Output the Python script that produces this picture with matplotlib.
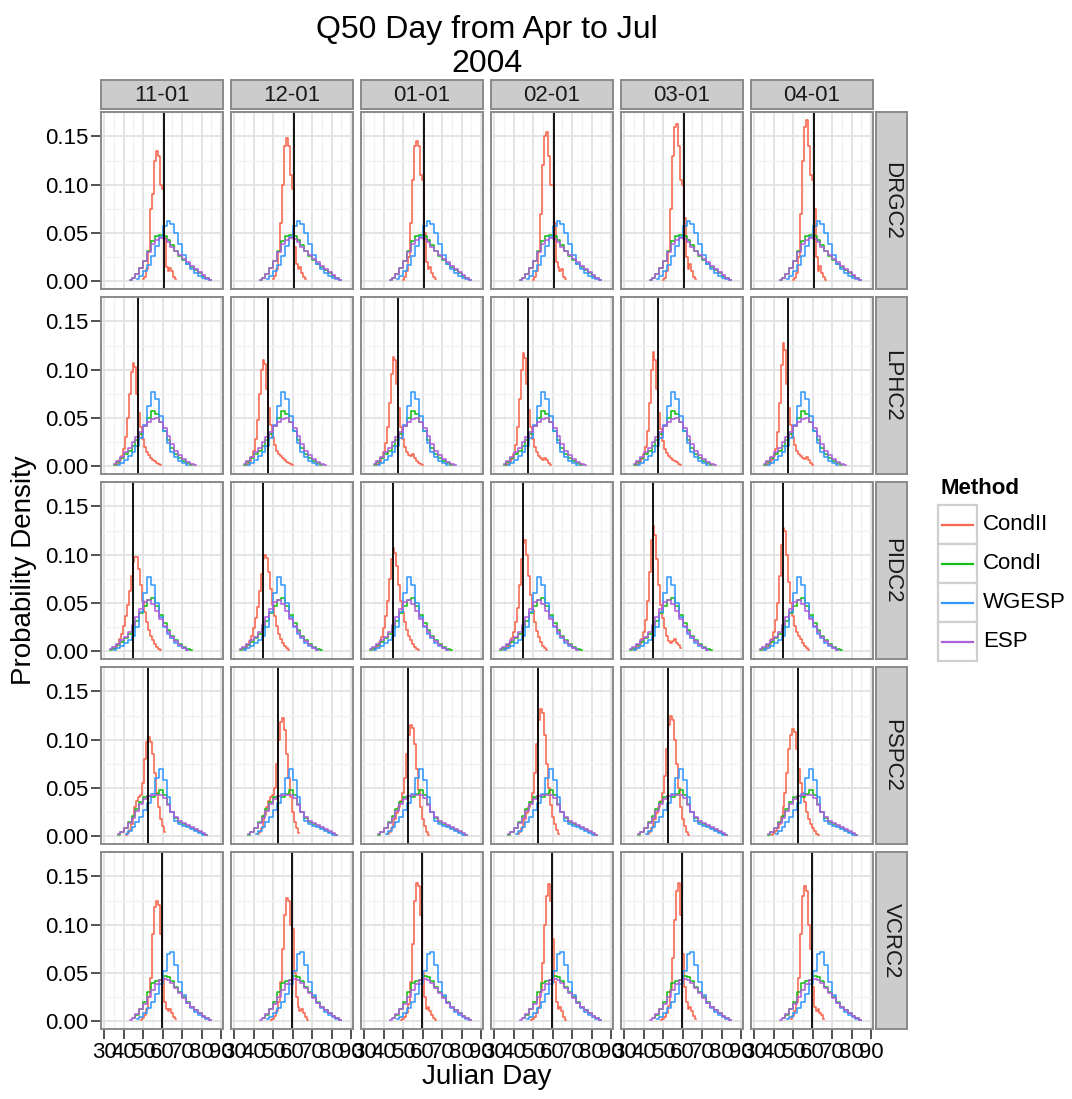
import matplotlib
matplotlib.use('Agg')
import matplotlib.pyplot as plt
from matplotlib.patches import Rectangle
from matplotlib.ticker import MultipleLocator

plt.rcParams['font.family'] = ['Liberation Sans', 'DejaVu Sans']

STATIONS = ['DRGC2', 'LPHC2', 'PIDC2', 'PSPC2', 'VCRC2']
ISSUE_DATES = ['11-01', '12-01', '01-01', '02-01', '03-01', '04-01']
METHODS = ['CondII', 'CondI', 'WGESP', 'ESP']
COLORS = {'CondII': '#F8664F', 'CondI': '#14C014', 'WGESP': '#3399FF', 'ESP': '#B05FDA'}

# observed Q50 day (vertical black line)
OBS_DAY = {'DRGC2': 60.5, 'LPHC2': 47.5, 'PIDC2': 45.0, 'PSPC2': 52.7, 'VCRC2': 59.7}

# smooth densities on 2-day bins, centres 31, 33, ..., 89
DAYS_2 = list(range(31, 90, 2))

ESP = {
    'DRGC2': [0, 0, 0, 0, 0, 0, .001, .003, .007, .013, .021, .030, .038, .043, .045,
              .044, .040, .035, .031, .027, .023, .020, .016, .012, .009, .006, .003, .001, 0, 0],
    'LPHC2': [0, 0, .002, .005, .009, .014, .019, .025, .030, .035, .041, .046, .049, .050, .046,
              .039, .031, .023, .016, .011, .007, .004, .002, .001, 0, 0, 0, 0, 0, 0],
    'PIDC2': [0, .002, .004, .007, .011, .015, .020, .027, .035, .044, .051, .053, .049, .041, .033,
              .026, .020, .015, .010, .006, .003, .001, 0, 0, 0, 0, 0, 0, 0, 0],
    'PSPC2': [0, 0, 0, .002, .004, .008, .013, .019, .026, .033, .038, .041, .042, .043, .043,
              .039, .032, .025, .020, .016, .013, .011, .009, .007, .005, .003, .001, 0, 0, 0],
    'VCRC2': [0, 0, 0, 0, 0, 0, .001, .003, .007, .012, .018, .025, .032, .038, .042,
              .044, .043, .039, .034, .029, .024, .019, .015, .011, .008, .005, .003, .001, 0, 0],
}
CONDI = {
    'DRGC2': [0, 0, 0, 0, 0, 0, .001, .003, .007, .013, .021, .031, .041, .047, .048,
              .047, .043, .037, .031, .026, .022, .018, .015, .011, .008, .005, .003, .001, 0, 0],
    'LPHC2': [0, 0, .001, .004, .008, .012, .016, .021, .027, .033, .041, .050, .057, .054, .046,
              .036, .027, .019, .012, .008, .005, .003, .001, 0, 0, 0, 0, 0, 0, 0],
    'PIDC2': [0, .001, .003, .006, .009, .013, .018, .024, .031, .039, .047, .053, .055, .047, .037,
              .029, .022, .016, .011, .007, .004, .002, .001, 0, 0, 0, 0, 0, 0, 0],
    'PSPC2': [0, 0, 0, .001, .004, .008, .014, .021, .028, .035, .040, .041, .040, .044, .048,
              .043, .033, .025, .019, .015, .012, .010, .008, .006, .004, .002, .001, 0, 0, 0],
    'VCRC2': [0, 0, 0, 0, 0, 0, 0, .003, .006, .012, .020, .030, .039, .041, .043,
              .047, .046, .041, .035, .030, .025, .020, .015, .011, .008, .005, .003, .001, 0, 0],
}
WGESP = {
    'DRGC2': [0, 0, 0, 0, 0, 0, 0, 0, .002, .005, .010, .017, .026, .036, .046,
              .057, .062, .059, .050, .038, .027, .018, .012, .008, .005, .003, .002, .001, 0, 0],
    'LPHC2': [0, 0, 0, .001, .003, .006, .010, .015, .021, .029, .042, .062, .077, .070, .052,
              .036, .024, .015, .009, .005, .003, .001, 0, 0, 0, 0, 0, 0, 0, 0],
    'PIDC2': [0, 0, .001, .003, .005, .008, .011, .016, .025, .040, .060, .077, .068, .050, .035,
              .025, .018, .013, .008, .005, .003, .001, 0, 0, 0, 0, 0, 0, 0, 0],
    'PSPC2': [0, 0, 0, 0, 0, .002, .005, .009, .014, .020, .027, .034, .044, .060, .069,
              .058, .040, .025, .016, .012, .010, .009, .007, .005, .003, .001, 0, 0, 0, 0],
    'VCRC2': [0, 0, 0, 0, 0, 0, 0, 0, .002, .004, .008, .013, .020, .028, .038,
              .052, .070, .072, .058, .040, .027, .019, .013, .009, .006, .004, .002, .001, 0, 0],
}

# CondII densities on 1-day bins, first bin per station, one list per issue date
CONDII_START = {'DRGC2': 50, 'LPHC2': 36, 'PIDC2': 35, 'PSPC2': 39, 'VCRC2': 49}
CONDII = {
    'DRGC2': [
        [.002, .004, .012, .030, .075, .090, .125, .135, .130, .100, .095, .045, .015, .010, .013, .010, .004, .002, 0],
        [.002, .005, .012, .030, .060, .100, .140, .148, .140, .110, .095, .035, .018, .012, .014, .008, .004, .002, 0],
        [.001, .004, .010, .025, .060, .105, .140, .145, .140, .110, .105, .050, .020, .012, .015, .008, .004, .002, 0],
        [.001, .004, .010, .030, .070, .120, .150, .155, .130, .100, .100, .060, .020, .015, .010, .012, .004, .002, 0],
        [.001, .003, .010, .030, .075, .130, .160, .163, .140, .105, .100, .065, .025, .012, .018, .010, .004, .002, 0],
        [.001, .003, .008, .025, .070, .125, .160, .167, .140, .110, .105, .075, .025, .010, .016, .008, .004, .001, 0],
    ],
    'LPHC2': [
        [.001, .003, .006, .010, .018, .030, .050, .075, .098, .107, .103, .075, .055, .040, .028, .020, .015, .011, .008, .006, .005, .003, .002, .001, 0, 0, 0],
        [.001, .002, .005, .009, .016, .028, .048, .075, .100, .110, .106, .080, .060, .042, .030, .022, .016, .012, .010, .008, .006, .004, .003, .002, .001, 0, 0],
        [.001, .002, .004, .008, .014, .024, .040, .065, .095, .113, .110, .085, .060, .040, .028, .020, .015, .011, .010, .012, .008, .005, .003, .002, .001, 0, 0],
        [.001, .002, .004, .007, .012, .022, .040, .070, .100, .117, .112, .085, .058, .040, .028, .020, .014, .010, .008, .006, .008, .006, .003, .001, 0, 0, 0],
        [.001, .002, .004, .007, .012, .020, .036, .065, .100, .118, .110, .080, .055, .038, .026, .018, .013, .010, .008, .006, .005, .004, .002, .001, 0, 0, 0],
        [.001, .002, .003, .006, .010, .018, .035, .065, .105, .128, .120, .085, .060, .042, .030, .022, .016, .012, .010, .008, .007, .009, .006, .003, .001, 0, 0],
    ],
    'PIDC2': [
        [.002, .004, .007, .012, .018, .026, .036, .048, .062, .078, .092, .098, .097, .085, .068, .052, .040, .030, .022, .016, .011, .007, .004, .002, .001, 0],
        [.001, .003, .006, .010, .016, .024, .034, .046, .062, .080, .095, .100, .096, .082, .064, .048, .036, .026, .018, .012, .008, .005, .003, .001, 0, 0],
        [.001, .003, .005, .009, .015, .024, .036, .052, .075, .095, .107, .102, .088, .068, .052, .040, .030, .022, .016, .011, .007, .004, .002, .001, 0, 0],
        [.001, .002, .004, .008, .013, .020, .030, .045, .068, .095, .112, .115, .100, .078, .058, .042, .030, .021, .014, .009, .005, .003, .001, 0, 0, 0],
        [.001, .002, .004, .007, .012, .020, .032, .052, .082, .115, .130, .120, .095, .068, .048, .034, .024, .016, .010, .008, .010, .012, .008, .006, .003, 0],
        [.001, .002, .004, .007, .012, .020, .032, .050, .078, .110, .128, .125, .100, .072, .050, .036, .026, .020, .016, .012, .008, .005, .003, .001, 0, 0],
    ],
    'PSPC2': [
        [0, 0, .001, .003, .006, .012, .020, .030, .036, .040, .042, .055, .080, .098, .103, .098, .085, .065, .045, .030, .018, .010, .004, 0, 0, 0],
        [0, 0, 0, .002, .004, .008, .014, .022, .030, .036, .040, .042, .050, .075, .100, .118, .122, .110, .085, .060, .040, .025, .015, .008, .003, 0],
        [0, 0, 0, .002, .004, .008, .012, .018, .024, .030, .036, .045, .060, .085, .105, .115, .112, .095, .070, .048, .030, .018, .010, .004, .001, 0],
        [0, 0, 0, .002, .004, .008, .012, .018, .024, .030, .035, .045, .065, .095, .120, .132, .128, .105, .075, .050, .032, .020, .012, .006, .002, 0],
        [0, 0, 0, .002, .004, .008, .012, .018, .024, .030, .036, .045, .062, .090, .115, .125, .120, .100, .075, .050, .030, .018, .010, .004, .001, 0],
        [.001, .003, .005, .008, .012, .020, .030, .045, .065, .090, .105, .111, .108, .090, .070, .055, .045, .035, .025, .018, .012, .008, .005, .002, .001, 0],
    ],
    'VCRC2': [
        [.001, .003, .006, .012, .025, .045, .090, .118, .125, .120, .090, .045, .020, .012, .010, .012, .008, .004, .002, 0],
        [.001, .002, .005, .010, .020, .040, .075, .110, .128, .125, .100, .095, .050, .025, .015, .010, .012, .008, .004, .001],
        [.001, .002, .004, .008, .018, .040, .080, .125, .143, .140, .110, .050, .025, .012, .015, .010, .006, .003, .001, 0],
        [.001, .002, .004, .008, .015, .030, .060, .100, .130, .142, .125, .085, .040, .020, .012, .015, .010, .004, .001, 0],
        [.001, .002, .004, .008, .016, .032, .065, .105, .135, .143, .110, .070, .035, .020, .012, .015, .010, .005, .002, 0],
        [.002, .005, .010, .020, .045, .090, .130, .140, .135, .100, .075, .035, .015, .010, .012, .008, .006, .002, 0, 0],
    ],
}

X_TICKS = [30, 40, 50, 60, 70, 80, 90]
Y_TICKS = [0.00, 0.05, 0.10, 0.15]

W, H = 1072, 1099
fig = plt.figure(figsize=(W / 100, H / 100), dpi=100)


def box(x, y, w, h):
    """pixel box (top-left origin) -> figure fraction rect"""
    return [x / W, 1 - (y + h) / H, w / W, h / H]


def draw_density(ax, days, vals, color):
    # only draw where the density has support (no flat zero run-out)
    nz = [i for i, v in enumerate(vals) if v > 0]
    lo, hi = nz[0], nz[-1] + 1
    ax.step(days[lo:hi], vals[lo:hi], where='mid', color=color, lw=1.15)


# shared y range: data range padded by 5% each side (ggplot style)
y_max = max(max(max(v) for v in CONDII[s]) for s in STATIONS)
y_lim = (-0.05 * y_max, 1.05 * y_max)

BORDER = '#8a8a8a'
STRIP = '#cccccc'
FS = 16

for r, st in enumerate(STATIONS):
    for c, iss in enumerate(ISSUE_DATES):
        left, top = 101 + 130 * c, 112 + 185 * r
        ax = fig.add_axes(box(left, top, 122, 177))
        ax.set_xlim(28.3, 91.0)
        ax.set_ylim(*y_lim)
        ax.xaxis.set_major_locator(MultipleLocator(10))
        ax.xaxis.set_minor_locator(MultipleLocator(5))
        ax.yaxis.set_major_locator(MultipleLocator(0.05))
        ax.yaxis.set_minor_locator(MultipleLocator(0.025))
        ax.grid(which='major', color='#e2e2e2', lw=1.3)
        ax.grid(which='minor', color='#f2f2f2', lw=1.0)
        ax.set_axisbelow(True)
        for sp in ax.spines.values():
            sp.set_color(BORDER)
            sp.set_linewidth(1.4)

        red_days = list(range(CONDII_START[st], CONDII_START[st] + len(CONDII[st][c])))
        draw_density(ax, red_days, CONDII[st][c], COLORS['CondII'])
        draw_density(ax, DAYS_2, CONDI[st], COLORS['CondI'])
        draw_density(ax, DAYS_2, WGESP[st], COLORS['WGESP'])
        draw_density(ax, DAYS_2, ESP[st], COLORS['ESP'])
        ax.axvline(OBS_DAY[st], color='black', lw=1.3)

        ax.tick_params(which='minor', length=0)
        ax.tick_params(which='major', direction='out', length=7, width=1.2,
                       color='#333333', labelsize=FS, pad=2)
        ax.tick_params(axis='y', left=(c == 0), labelleft=(c == 0))
        ax.tick_params(axis='x', bottom=(r == len(STATIONS) - 1),
                       labelbottom=(r == len(STATIONS) - 1))
        ax.set_xticks(X_TICKS)
        ax.set_xticklabels([str(t) for t in X_TICKS])
        ax.set_yticks(Y_TICKS)
        ax.set_yticklabels([f'{t:.2f}' for t in Y_TICKS])

        if r == 0:
            sax = fig.add_axes(box(left, 80, 122, 29))
            sax.set_xticks([]); sax.set_yticks([])
            sax.set_facecolor(STRIP)
            for sp in sax.spines.values():
                sp.set_color(BORDER); sp.set_linewidth(1.4)
            sax.text(0.5, 0.45, iss, ha='center', va='center', fontsize=FS,
                     color='#1a1a1a', transform=sax.transAxes)
        if c == len(ISSUE_DATES) - 1:
            sax = fig.add_axes(box(876, top, 31, 177))
            sax.set_xticks([]); sax.set_yticks([])
            sax.set_facecolor(STRIP)
            for sp in sax.spines.values():
                sp.set_color(BORDER); sp.set_linewidth(1.4)
            sax.text(0.5, 0.5, st, ha='center', va='center', rotation=-90,
                     fontsize=FS, color='#1a1a1a', transform=sax.transAxes)

# titles and axis labels
fig.text(487 / W, 1 - 38 / H, 'Q50 Day from Apr to Jul', ha='center', va='baseline', fontsize=23)
fig.text(487 / W, 1 - 72 / H, '2004', ha='center', va='baseline', fontsize=23)
fig.text(487 / W, 1 - 1077 / H, 'Julian Day', ha='center', va='center', fontsize=20)
fig.text(24 / W, 1 - 570 / H, 'Probability Density', ha='center', va='center',
         rotation=90, fontsize=20)

# legend drawn in a pixel overlay
lax = fig.add_axes([0, 0, 1, 1])
lax.set_xlim(0, W)
lax.set_ylim(H, 0)
lax.axis('off')
lax.text(940, 488, 'Method', ha='left', va='center', fontsize=16, fontweight='bold')
for i, m in enumerate(METHODS):
    y0 = 505 + 39 * i
    lax.add_patch(Rectangle((938, y0), 39, 39, facecolor='white', edgecolor='#cfcfcf', lw=1.6))
    lax.plot([942, 973], [y0 + 19.5, y0 + 19.5], color=COLORS[m], lw=1.6)
    lax.text(983, y0 + 19.5, m, ha='left', va='center', fontsize=FS)

fig.savefig('out.png', dpi=100)
